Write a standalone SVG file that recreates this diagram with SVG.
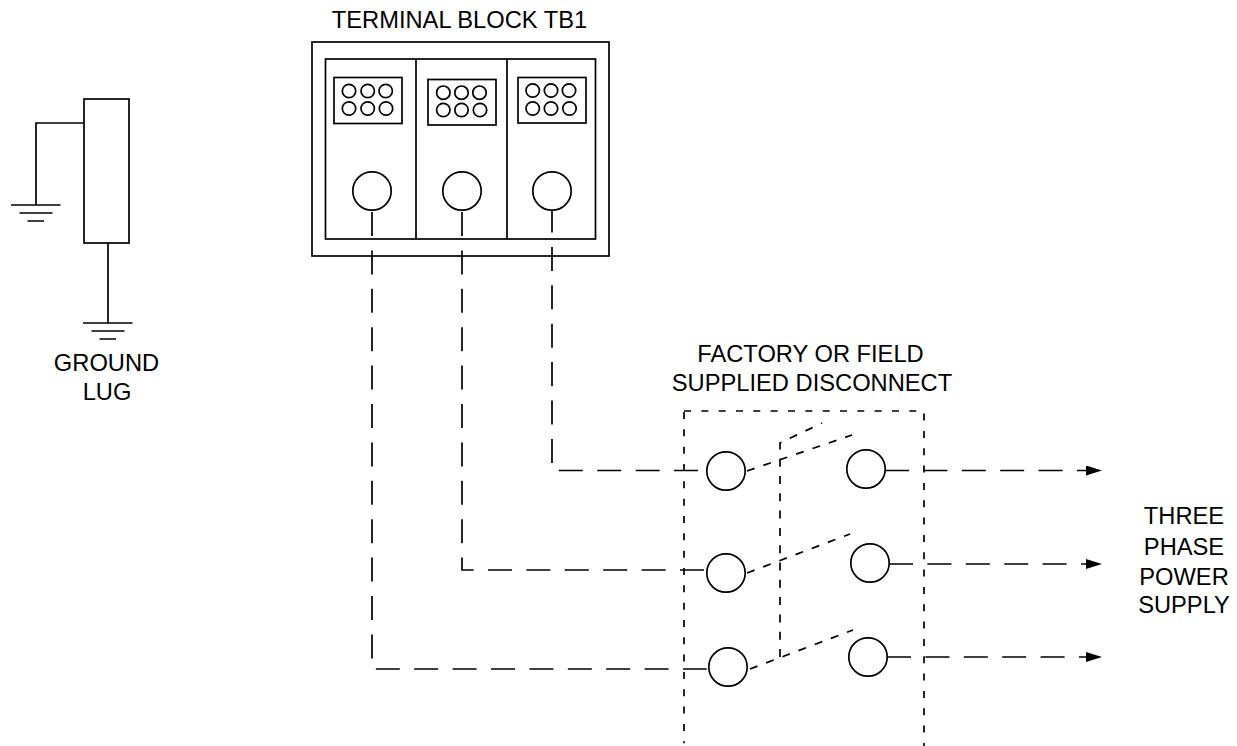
<svg xmlns="http://www.w3.org/2000/svg" width="1237" height="746" viewBox="0 0 1237 746">
<style>
text{font-family:"Liberation Sans",Arial,sans-serif;font-size:23.7px;fill:#000;text-anchor:middle}
.s{fill:none;stroke:#000;stroke-width:1.7}
.w{fill:none;stroke:#000;stroke-width:1.7;stroke-dasharray:24 14.4}
.b{fill:none;stroke:#000;stroke-width:1.7;stroke-dasharray:8 9.3}
.d{fill:none;stroke:#000;stroke-width:1.7;stroke-dasharray:7 10.33}
</style>
<defs>
<marker id="arrow" markerUnits="userSpaceOnUse" markerWidth="18" markerHeight="12" refX="0" refY="5" orient="auto"><path d="M0 0L16 5L0 10Z" fill="#000"/></marker>
<g id="gnd"><path class="s" d="M-25 0H24.500M-16.500 8H16.500M-8.500 16H8"/></g>
</defs>
<rect width="1237" height="746" fill="#fff"/>
<g id="connectors">
<path class="w" d="M372 212V669H706.700"/>
<path class="w" d="M462 212V570H704"/>
<path class="w" stroke-dashoffset="1.500" d="M552 210V470.500H698"/>
<path class="w" d="M885 470.500H1086" marker-end="url(#arrow)"/>
<path class="w" d="M889 564H1086" marker-end="url(#arrow)"/>
<path class="w" d="M887 657H1086" marker-end="url(#arrow)"/>
<path class="b" d="M747 471L852 435"/>
<path class="b" d="M747 573L850 534"/>
<path class="b" d="M750 669L853 630"/>
<path class="b" d="M780 657V443L822 423"/>
<path class="s" d="M84 123H36V205"/>
<path class="s" d="M108 243V323"/>
</g>
<g id="terminal-block-tb1">
<rect class="s" x="312" y="42" width="297" height="214"/>
<rect class="s" x="325.500" y="59" width="270" height="180"/>
<path class="s" d="M416 59V239M507 59V239"/>
<rect class="s" x="334" y="77.500" width="68" height="46"/>
<rect class="s" x="428" y="79.500" width="68" height="45.500"/>
<rect class="s" x="518" y="77.500" width="68" height="45.500"/>
<g class="s">
<circle cx="349" cy="91" r="6.700"/><circle cx="367.700" cy="91" r="6.700"/><circle cx="385.700" cy="91" r="6.700"/>
<circle cx="349" cy="108.500" r="6.700"/><circle cx="367.700" cy="108.500" r="6.700"/><circle cx="386" cy="108.500" r="6.700"/>
<circle cx="443.300" cy="92.700" r="6.700"/><circle cx="461.500" cy="92.700" r="6.700"/><circle cx="479.500" cy="92.700" r="6.700"/>
<circle cx="443.300" cy="110" r="6.700"/><circle cx="461.500" cy="110" r="6.700"/><circle cx="480" cy="110" r="6.700"/>
<circle cx="532.700" cy="90.500" r="6.700"/><circle cx="551" cy="90.500" r="6.700"/><circle cx="569" cy="90.500" r="6.700"/>
<circle cx="532.700" cy="108.500" r="6.700"/><circle cx="551" cy="108.500" r="6.700"/><circle cx="569.500" cy="108.500" r="6.700"/>
</g>
<circle class="s" cx="372" cy="191" r="19.200"/>
<circle class="s" cx="462" cy="191" r="19.200"/>
<circle class="s" cx="552" cy="191" r="19.200"/>
<text x="459.500" y="28.300">TERMINAL BLOCK TB1</text>
</g>
<g id="ground-lug">
<rect class="s" x="84" y="99" width="45" height="144"/>
<use href="#gnd" x="108" y="323"/>
<use href="#gnd" x="36" y="205"/>
<text x="106.500" y="371">GROUND</text>
<text x="107" y="400">LUG</text>
</g>
<g id="disconnect">
<path class="d" d="M684 412V743.300"/>
<path class="d" d="M684 411H924V746"/>
<circle class="s" cx="726" cy="471" r="19.200"/>
<circle class="s" cx="726" cy="573" r="19.200"/>
<circle class="s" cx="728" cy="667" r="19.200"/>
<circle class="s" cx="866" cy="469" r="19.200"/>
<circle class="s" cx="870" cy="563" r="19.200"/>
<circle class="s" cx="868" cy="657" r="19.200"/>
<text x="810.500" y="362.300">FACTORY OR FIELD</text>
<text x="812" y="391">SUPPLIED DISCONNECT</text>
</g>
<g id="power-supply">
<text x="1184" y="524.300">THREE</text>
<text x="1184" y="555">PHASE</text>
<text x="1184" y="584.700">POWER</text>
<text x="1184" y="612.700">SUPPLY</text>
</g>
</svg>
